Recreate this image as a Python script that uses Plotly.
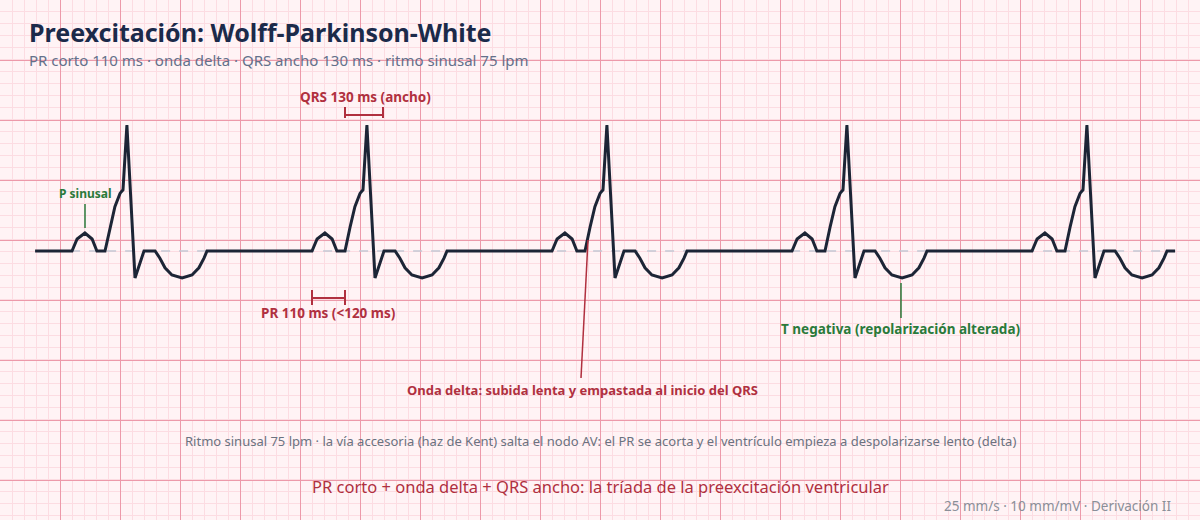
import plotly.graph_objects as go

# beat template: offsets from P onset (ms) and voltage (mV)
beat_t = [0, 17, 43, 67, 83, 110, 127, 143, 160, 170, 183, 210, 240, 277,
          293, 310, 333, 367, 400, 423, 440, 450]
beat_v = [0, 0.10, 0.15, 0.10, 0, 0, 0.20, 0.37, 0.48, 0.51, 1.05, -0.225, 0, 0,
          -0.06, -0.14, -0.20, -0.225, -0.20, -0.14, -0.06, 0]
p_onsets = [240, 1040, 1840, 2640, 3440]   # ms
trace_start, trace_end = 117, 3917

xs, ys = [trace_start], [0]
for p in p_onsets:
    for t, v in zip(beat_t, beat_v):
        xs.append(p + t)
        ys.append(v)
xs.append(trace_end)
ys.append(0)

MS_PER_PX = 1000 / 300
MV_PER_PX = 1 / 120
BASE_PX = 251

def X(px):
    return px * MS_PER_PX

def Y(py):
    return (BASE_PX - py) * MV_PER_PX

red = "#b0303f"
green = "#2a7a3a"
gray = "#6b7280"

fig = go.Figure()
fig.add_trace(go.Scatter(x=[trace_start, trace_end], y=[0, 0], mode="lines",
                         line=dict(color="#c4c8d4", width=1.5, dash="dash"), hoverinfo="skip"))
fig.add_trace(go.Scatter(x=xs, y=ys, mode="lines", line_shape="linear",
                         line=dict(color="#1c2536", width=3), hoverinfo="skip"))

def seg(x0, y0, x1, y1, color, w=1.5):
    fig.add_shape(type="line", x0=X(x0), y0=Y(y0), x1=X(x1), y1=Y(y1),
                  line=dict(color=color, width=w))

def txt(px, py, s, color, size=13, bold=True, xanchor="center"):
    fig.add_annotation(x=X(px), y=Y(py), text=f"<b>{s}</b>" if bold else s, showarrow=False,
                       font=dict(color=color, size=size), xanchor=xanchor, yanchor="middle")

# P sinusal
txt(85, 193, "P sinusal", green, 12)
seg(85, 204, 85, 228, green)
# QRS bracket
txt(365, 97, "QRS 130 ms (ancho)", red, 13.5)
seg(345, 115, 383, 115, red, 2)
seg(345, 107, 345, 118, red, 2)
seg(383, 107, 383, 118, red, 2)
# PR bracket
txt(328, 313, "PR 110 ms (&lt;120 ms)", red, 13.5)
seg(312, 298, 345, 298, red, 2)
seg(312, 290, 312, 305, red, 2)
seg(345, 290, 345, 305, red, 2)
# delta
seg(581, 378, 588, 240, red)
txt(582, 390, "Onda delta: subida lenta y empastada al inicio del QRS", red, 13)
# T negativa
seg(901, 283, 901, 318, green)
txt(900, 329, "T negativa (repolarización alterada)", green, 13.5)

txt(600, 441, "Ritmo sinusal 75 lpm · la vía accesoria (haz de Kent) salta el nodo AV: el PR se acorta y el ventrículo empieza a despolarizarse lento (delta)", gray, 13, bold=False)
txt(600, 486, "PR corto + onda delta + QRS ancho: la tríada de la preexcitación ventricular", red, 16.5, bold=False)
txt(1173, 506, "25 mm/s · 10 mm/mV · Derivación II", "#8a8f98", 13.5, bold=False, xanchor="right")
txt(27, 32, "Preexcitación: Wolff-Parkinson-White", "#1b2a4a", 25, xanchor="left")
txt(27, 60, "PR corto 110 ms · onda delta · QRS ancho 130 ms · ritmo sinusal 75 lpm", "#64708a", 15, bold=False, xanchor="left")

fig.update_layout(
    width=1200, height=520, margin=dict(l=0, r=0, t=0, b=0),
    paper_bgcolor="#fff3f5", plot_bgcolor="#fff3f5", showlegend=False,
    font=dict(family="Noto Sans, Open Sans, sans-serif"),
    xaxis=dict(range=[0, X(1200)], tick0=0, dtick=200, showgrid=True, gridcolor="#ec9aaa", gridwidth=1,
               minor=dict(dtick=40, showgrid=True, gridcolor="#fcdce2", gridwidth=1),
               showticklabels=False, zeroline=False, ticks=""),
    yaxis=dict(range=[Y(520), Y(0)], tick0=Y(0), dtick=0.5, showgrid=True, gridcolor="#ec9aaa", gridwidth=1,
               minor=dict(dtick=0.1, showgrid=True, gridcolor="#fcdce2", gridwidth=1),
               showticklabels=False, zeroline=False, ticks=""),
)
fig.write_html("out.html", config={"displayModeBar": False},
               post_script="document.body.style.margin='0';")
